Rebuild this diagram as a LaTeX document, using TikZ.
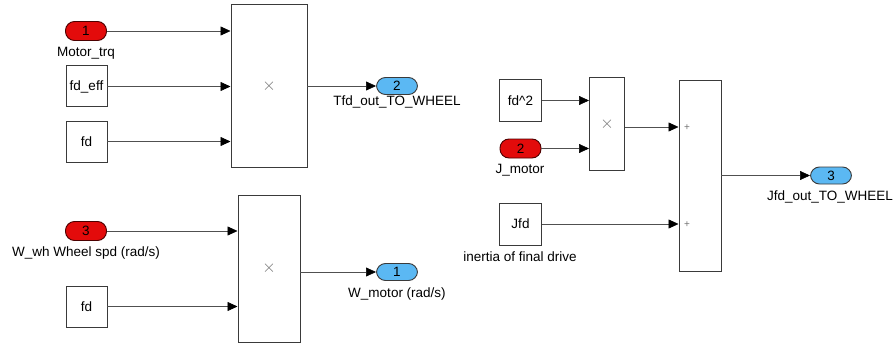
\documentclass[tikz,border=0pt]{standalone}
\usepackage{fontspec}
\setmainfont{Liberation Sans}
\usetikzlibrary{arrows.meta}
\definecolor{inred}{HTML}{E30B0B}
\definecolor{outblue}{HTML}{5BB8F3}
\definecolor{bord}{HTML}{3A3A3A}
\definecolor{wire}{HTML}{505050}
\tikzset{
  x=1pt, y=-1pt,
  every node/.style={font=\fontsize{13.5}{15}\selectfont, inner sep=0pt, outer sep=0pt},
  blk/.style={draw=bord, line width=1pt, fill=white, minimum width=41pt, minimum height=41pt},
  inport/.style={draw=black!70!red, line width=0.9pt, fill=inred, rounded corners=9pt, minimum width=41pt, minimum height=19pt},
  outport/.style={draw=bord, line width=0.9pt, fill=outblue, rounded corners=9pt, minimum width=41pt, minimum height=17pt},
  lbl/.style={font=\fontsize{13.5}{15}\selectfont},
  conn/.style={draw=wire, line width=0.6pt, -{Triangle[length=10pt,width=9pt,black]}, shorten >=0.5pt},
  op/.style={text=black!55, font=\fontsize{19}{19}\selectfont},
}
\begin{document}
\begin{tikzpicture}
\useasboundingbox (0,0) rectangle (895,345);
% ---------- group 1 ----------
\node[inport] (in1) at (86,31) {1};
\node[lbl] (in1l) at (86,53) {Motor\_trq};
\node[blk] (fdeff) at (86.5,86.5) {fd\_eff};
\node[blk] (fda) at (86.5,141.5) {fd};
\node[blk, minimum width=76pt, minimum height=162pt] (prod1) at (269,86) {};
\node[op] at (prod1.center) {$\times$};
\node[outport] (out2) at (397,86) {2};
\node[lbl] (out2l) at (397,102) {Tfd\_out\_TO\_WHEEL};
\draw[conn] (in1.east) -- (in1.east -| prod1.west);
\draw[conn] (fdeff.east) -- (fdeff.east -| prod1.west);
\draw[conn] (fda.east) -- (fda.east -| prod1.west);
\draw[conn] (prod1.east) -- (out2.west);
% ---------- group 2 ----------
\node[inport] (in3) at (86,231) {3};
\node[lbl] (in3l) at (86,253) {W\_wh Wheel spd (rad/s)};
\node[blk] (fdb) at (86.5,306.5) {fd};
\node[blk, minimum width=62pt, minimum height=147pt] (prod2) at (269,268.5) {};
\node[op] at (prod2.center) {$\times$};
\node[outport] (out1) at (397,272) {1};
\node[lbl] (out1l) at (397,294) {W\_motor (rad/s)};
\draw[conn] (in3.east) -- (in3.east -| prod2.west);
\draw[conn] (fdb.east) -- (fdb.east -| prod2.west);
\draw[conn] (out1.west -| prod2.east) -- (out1.west);
% ---------- group 3 ----------
\node[blk, minimum width=42pt, minimum height=42pt] (fdsq) at (520.5,100.5) {fd\textasciicircum 2};
\node[inport] (in2) at (520.5,148.5) {2};
\node[lbl] (in2l) at (520,170) {J\_motor};
\node[blk, minimum width=42pt, minimum height=42pt] (jfd) at (520.5,224) {Jfd};
\node[lbl] (jfdl) at (520,257) {inertia of final drive};
\node[blk, minimum width=35pt, minimum height=92pt] (prod3) at (607,124) {};
\node[op] at (prod3.center) {$\times$};
\node[blk, minimum width=42pt, minimum height=190pt] (sum) at (700,176) {};
\coordinate (s1) at (679,127);
\node[op, font=\fontsize{10}{10}\selectfont] at (687,128) {+};
\node[op, font=\fontsize{10}{10}\selectfont] at (687,225) {+};
\node[outport] (out3) at (831,175.5) {3};
\node[lbl] (out3l) at (830,197) {Jfd\_out\_TO\_WHEEL};
\draw[conn] (fdsq.east) -- (fdsq.east -| prod3.west);
\draw[conn] (in2.east) -- (in2.east -| prod3.west);
\draw[conn] (s1 -| prod3.east) -- (s1);
\draw[conn] (jfd.east) -- (jfd.east -| sum.west);
\draw[conn] (out3.west -| sum.east) -- (out3.west);
\end{tikzpicture}
\end{document}
